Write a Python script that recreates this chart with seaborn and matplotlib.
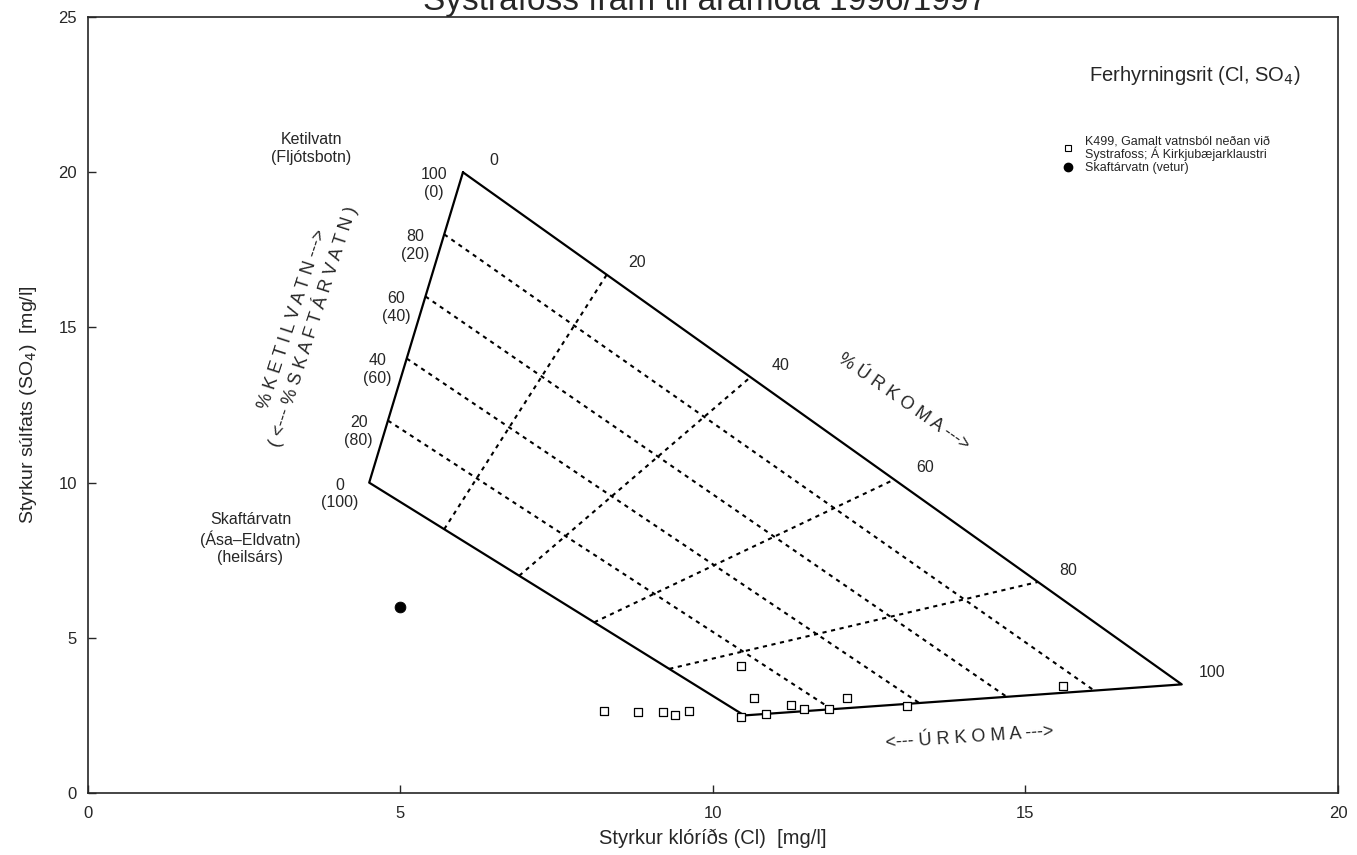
import numpy as np
import pandas as pd
import seaborn as sns
import matplotlib.pyplot as plt
from matplotlib.lines import Line2D

# K499 samples (Cl, SO4) in mg/l
cl_k499 = [8.25, 8.8, 9.2, 9.4, 9.62, 10.45, 10.65, 10.45, 10.85, 11.25, 11.45, 11.85, 12.15, 13.1, 15.6]
so4_k499 = [2.65, 2.6, 2.6, 2.5, 2.65, 4.1, 3.05, 2.45, 2.55, 2.85, 2.7, 2.7, 3.05, 2.8, 3.45]

# Skaftárvatn, winter sample
cl_winter = [5.0]
so4_winter = [6.0]

# corners of the mixing quadrilateral (Cl, SO4)
ketilvatn = (6.0, 20.0)
skaftarvatn = (4.5, 10.0)
urkoma_low = (10.5, 2.5)
urkoma_high = (17.5, 3.5)

grid_pct = [20, 40, 60, 80]
left_labels = ["0\n(100)", "20\n(80)", "40\n(60)", "60\n(40)", "80\n(20)", "100\n(0)"]
top_labels = ["0", "20", "40", "60", "80", "100"]

sns.set_style("ticks")
plt.rcParams['font.family'] = ['Liberation Sans', 'DejaVu Sans']

fig, ax = plt.subplots(figsize=(13.57, 8.55), dpi=100)
fig.subplots_adjust(left=0.0648, right=0.986, bottom=0.0725, top=0.980)

A = np.array(ketilvatn)
B = np.array(skaftarvatn)
C = np.array(urkoma_low)
D = np.array(urkoma_high)


def mix(k, u):
    # k = Ketilvatn share, u = rain share
    return (1 - u) * ((1 - k) * B + k * A) + u * ((1 - k) * C + k * D)


# outline
outline = np.array([A, B, C, D, A])
ax.plot(outline[:, 0], outline[:, 1], color='black', lw=1.6, zorder=2)

# dotted grid
for p in grid_pct:
    f = p / 100
    seg = np.array([mix(f, 0), mix(f, 1)])
    ax.plot(seg[:, 0], seg[:, 1], color='black', lw=1.5, ls=(0, (2, 2.2)), zorder=1)
    seg = np.array([mix(0, f), mix(1, f)])
    ax.plot(seg[:, 0], seg[:, 1], color='black', lw=1.5, ls=(0, (2, 2.2)), zorder=1)

df = pd.DataFrame({'Cl': cl_k499, 'SO4': so4_k499})
sns.scatterplot(data=df, x='Cl', y='SO4', marker='s', s=26, facecolor='white',
                edgecolor='black', linewidth=0.9, ax=ax, zorder=3)
dw = pd.DataFrame({'Cl': cl_winter, 'SO4': so4_winter})
sns.scatterplot(data=dw, x='Cl', y='SO4', marker='o', s=60, color='black',
                edgecolor='black', ax=ax, zorder=3)

# labels along left edge
for i, lab in enumerate(left_labels):
    pt = mix(i / 5, 0)
    ax.annotate(lab, pt, xytext=(-21, -8), textcoords='offset points',
                ha='center', va='center', fontsize=11.5, linespacing=1.2)

# labels along top edge
for i, lab in enumerate(top_labels):
    pt = mix(1, i / 5)
    ax.annotate(lab, pt, xytext=(22, 8.5), textcoords='offset points',
                ha='center', va='center', fontsize=11.5)

ax.text(3.57, 20.77, "Ketilvatn\n(Fljótsbotn)", ha='center', va='center',
        fontsize=11.5, linespacing=1.2)
ax.text(2.6, 8.2, "Skaftárvatn\n(Ása\u2013Eldvatn)\n(heilsárs)", ha='center',
        va='center', fontsize=11.5, linespacing=1.2)

ax.text(3.45, 15.15, "% K E T I L V A T N --->\n( <--- % S K A F T Á R V A T N )",
        rotation=72, ha='center', va='center', fontsize=13,
        linespacing=1.15, rotation_mode='anchor')
ax.text(13.05, 12.6, "% Ú R K O M A --->", rotation=-35, ha='center',
        va='center', fontsize=13, rotation_mode='anchor')
ax.text(14.1, 1.78, "<--- Ú R K O M A --->", rotation=4, ha='center',
        va='center', fontsize=13, rotation_mode='anchor')

ax.text(0.970, 0.925, "Ferhyrningsrit (Cl, SO$_4$)", transform=ax.transAxes,
        ha='right', va='center', fontsize=14.5)

handles = [
    Line2D([], [], ls='none', marker='s', ms=4.5, mfc='white', mec='black', mew=0.8),
    Line2D([], [], ls='none', marker='o', ms=6, mfc='black', mec='black'),
]
labels = ["K499, Gamalt vatnsból neðan við\nSystrafoss; Á Kirkjubæjarklaustri",
          "Skaftárvatn (vetur)"]
leg = ax.legend(handles, labels, loc='upper left', bbox_to_anchor=(0.78, 0.848),
                frameon=False, fontsize=9, handlelength=0.8, handletextpad=1.0,
                labelspacing=0.1, borderpad=0, borderaxespad=0)
for t in leg.get_texts():
    t.set_linespacing(0.95)

ax.set_xlim(0, 20)
ax.set_ylim(0, 25)
ax.set_xticks([0, 5, 10, 15, 20])
ax.set_yticks([0, 5, 10, 15, 20, 25])
ax.tick_params(direction='in', length=6, labelsize=12, width=1)
ax.tick_params(axis='y', pad=8)
ax.tick_params(axis='x', pad=9)
for sp in ax.spines.values():
    sp.set_visible(True)
    sp.set_linewidth(1.2)

ax.set_xlabel("Styrkur klóríðs (Cl)  [mg/l]", fontsize=14.5, labelpad=6)
ax.set_ylabel("Styrkur súlfats (SO$_4$)  [mg/l]", fontsize=14, labelpad=14)
ax.set_title("Systrafoss fram til áramóta 1996/1997", fontsize=24, pad=3.5, x=0.494)

fig.savefig("out.png", dpi=100)
